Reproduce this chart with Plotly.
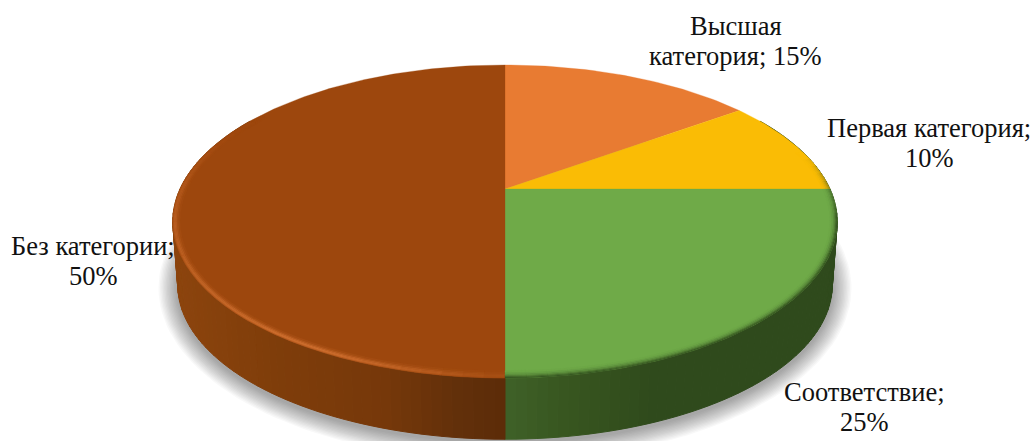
import numpy as np
import plotly.graph_objects as go

categories = ["Высшая категория", "Первая категория", "Соответствие", "Без категории"]
values = [15, 10, 25, 50]
colors = ["#E87B32", "#FABC05", "#6FAA48", "#9D470D"]

CX, AY = 505.0, 189.0
A, B, K = 325.0, 149.8, 0.2077
DROP, SHRINK = 64.0, 0.985
W, H = 1033, 441


def proj(deg, r=1.0, h=0.0):
    t = np.radians(deg)
    u, v = r * np.sin(t), r * np.cos(t)
    w = 1 + K * v
    s = 1 + (SHRINK - 1) * h
    return CX + s * A * u / w, AY + DROP * h - s * B * v / w


def inset(deg, px):
    x1, y1 = proj(deg, 1.0)
    x2, y2 = proj(deg, 0.99)
    return 1.0 - 0.01 * px / np.hypot(x1 - x2, y1 - y2)


def hex2rgb(c):
    return np.array([int(c[i:i + 2], 16) for i in (1, 3, 5)], float)


def mix(c1, c2, f):
    a = hex2rgb(c1) * (1 - f) + hex2rgb(c2) * f
    return "#%02x%02x%02x" % tuple(int(round(x)) for x in a)


def ramp(stops, t):
    ts = [s[0] for s in stops]
    rgb = [hex2rgb(s[1]) for s in stops]
    return "#%02x%02x%02x" % tuple(int(round(np.interp(t, ts, [c[i] for c in rgb]))) for i in range(3))


def side_color(x):
    if x < CX:
        return ramp([(0, "#5C2C08"), (0.15, "#62300A"), (0.36, "#76380A"), (0.7, "#7F3D0A"), (1, "#8C440D")],
                    (CX - x) / 332)
    return ramp([(0, "#3F6128"), (0.2, "#37551F"), (0.45, "#2F4A1C"), (1, "#2F4A1C")], (x - CX) / 332)


fig = go.Figure()


def poly(x, y, color, name=None, lw=0.6):
    fig.add_trace(go.Scatter(x=list(x), y=list(y), mode="lines", fill="toself", fillcolor=color,
                             line=dict(color=color, width=lw), hoverinfo="skip", showlegend=False,
                             name=name))


def band(d1, d2, p1, p2, color):
    xa, ya = proj(d1, inset(d1, p1))
    xb, yb = proj(d2, inset(d2, p1))
    xc, yc = proj(d2, inset(d2, p2))
    xd, yd = proj(d1, inset(d1, p2))
    poly([xa, xb, xc, xd, xa], [ya, yb, yc, yd, ya], color, lw=0.3)


# soft shadow under the disc
th = np.linspace(0, 360, 181)
for grow in np.linspace(19, 1, 14):
    sx, sy = proj(th, 1.0, 1.0)
    ex = CX + (sx - CX) * (1 + grow / 322)
    ey = (AY + DROP + 32) + (sy - (AY + DROP + 32)) * (1 + grow / 155) + 3
    poly(ex, ey, "rgba(0,0,0,0.026)", lw=0)

# slice boundaries, clockwise from the top
edges = np.cumsum([0] + values) * 3.6

# outer wall
for i, cat in enumerate(categories):
    lo, hi = max(edges[i], 60), min(edges[i + 1], 300)
    if hi <= lo:
        continue
    n = max(2, int((hi - lo) / 1.5))
    a = np.linspace(lo, hi, n + 1)
    for p, q in zip(a[:-1], a[1:]):
        x1, y1 = proj(p)
        x2, y2 = proj(q)
        x3, y3 = proj(q, 1, 1)
        x4, y4 = proj(p, 1, 1)
        mid = (x1 + x2) / 2
        poly([x1, x2, x3, x4, x1], [y1, y2, y3, y4, y1], side_color(mid), lw=1.0)

# top faces
for i, cat in enumerate(categories):
    a = np.linspace(edges[i], edges[i + 1], max(8, int(values[i] * 3)))
    x, y = proj(a)
    poly(np.r_[CX, x, CX], np.r_[AY, y, AY], colors[i], name=cat, lw=0.3)

# bevel along the front edge
px_steps = [0, 1, 2, 3, 4.5, 6, 7.5]
weights_brown = [0.5, 0.9, 1.0, 0.75, 0.4, 0.15]
weights_green = [1.0, 0.8, 0.55, 0.32, 0.14, 0.04]
step = 3.0
for deg in np.arange(180, 303, step):
    f = np.interp(deg, [180, 190, 205, 216, 240, 270, 288, 303], [0.2, 0.6, 1.0, 1.0, 0.7, 0.42, 0.12, 0.0])
    for k, wt in enumerate(weights_brown):
        band(deg, deg + step, px_steps[k], px_steps[k + 1], mix(colors[3], "#D27232", f * wt))
for deg in np.arange(75, 180, step):
    fade = np.interp(deg, [75, 100], [0.0, 1.0])
    for k, wt in enumerate(weights_green):
        base = colors[2] if deg >= 90 else colors[1]
        band(deg, min(deg + step, 180), px_steps[k], px_steps[k + 1], mix(base, "#33511F", wt * 0.95 * fade))

# labels: one annotation per printed line
label_lines = [
    ["Высшая", f"категория; {values[0]}%"],
    [f"{categories[1]};", f"{values[1]}%"],
    [f"{categories[2]};", f"{values[2]}%"],
    [f"{categories[3]};", f"{values[3]}%"],
]
label_pos = [(735.5, 26), (929, 128), (864, 392), (93, 246)]
LINE_GAP = 30
for lines, (lx, ly) in zip(label_lines, label_pos):
    for j, line in enumerate(lines):
        fig.add_annotation(x=lx, y=ly + j * LINE_GAP, xref="x", yref="y", text=line, showarrow=False,
                           font=dict(family="Liberation Serif", size=26.5, color="#111111"),
                           xanchor="center", yanchor="middle")

fig.update_layout(width=W, height=H, margin=dict(l=0, r=0, t=0, b=0), paper_bgcolor="white",
                  plot_bgcolor="white", showlegend=False,
                  xaxis=dict(range=[0, W], visible=False, fixedrange=True),
                  yaxis=dict(range=[H, 0], visible=False, fixedrange=True))
fig.write_html("out.html", config={"displayModeBar": False},
               post_script="document.body.style.margin='0';document.body.style.overflow='hidden';")
